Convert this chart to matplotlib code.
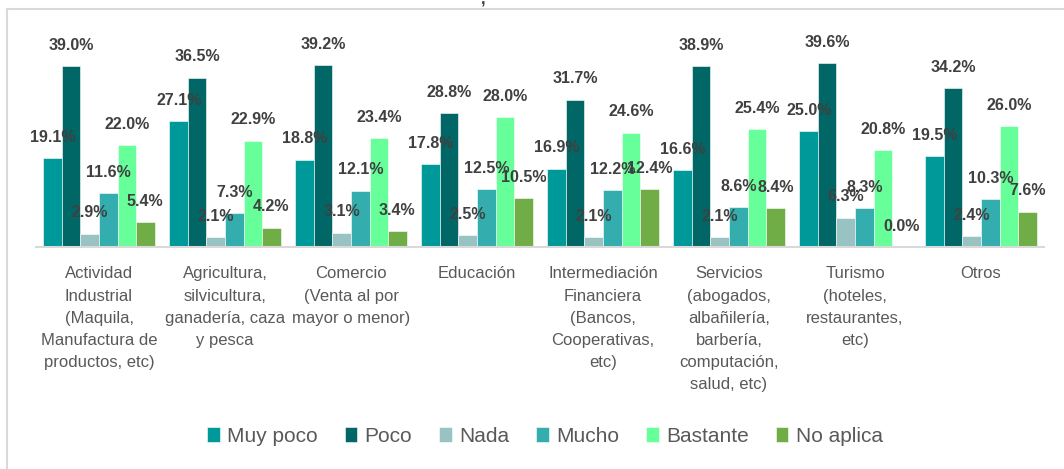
from matplotlib import pyplot as plt
from matplotlib.lines import Line2D
import numpy as np

plt.rcParams['font.family'] = ['Liberation Sans', 'DejaVu Sans']

categories = [
    "Actividad\nIndustrial\n(Maquila,\nManufactura de\nproductos, etc)",
    "Agricultura,\nsilvicultura,\nganadería, caza\ny pesca",
    "Comercio\n(Venta al por\nmayor o menor)",
    "Educación",
    "Intermediación\nFinanciera\n(Bancos,\nCooperativas,\netc)",
    "Servicios\n(abogados,\nalbañilería,\nbarbería,\ncomputación,\nsalud, etc)",
    "Turismo\n(hoteles,\nrestaurantes,\netc)",
    "Otros",
]

series_names = ["Muy poco", "Poco", "Nada", "Mucho", "Bastante", "No aplica"]
muy_poco = [19.1, 27.1, 18.8, 17.8, 16.9, 16.6, 25.0, 19.5]
poco = [39.0, 36.5, 39.2, 28.8, 31.7, 38.9, 39.6, 34.2]
nada = [2.9, 2.1, 3.1, 2.5, 2.1, 2.1, 6.3, 2.4]
mucho = [11.6, 7.3, 12.1, 12.5, 12.2, 8.6, 8.3, 10.3]
bastante = [22.0, 22.9, 23.4, 28.0, 24.6, 25.4, 20.8, 26.0]
no_aplica = [5.4, 4.2, 3.4, 10.5, 12.4, 8.4, 0.0, 7.6]

colors = ["#009999", "#006666", "#99c2c2", "#33adad", "#66ff99", "#70ad47"]

fig = plt.figure(figsize=(10.64, 4.69), dpi=100)
ax = fig.add_axes([36 / 1064, 0.4733, 1008 / 1064, 0.4456])

x = np.arange(len(categories))
width = 0.147
all_series = [muy_poco, poco, nada, mucho, bastante, no_aplica]
for i, (name, vals) in enumerate(zip(series_names, all_series)):
    pos = x + (i - 2.5) * width
    bars = ax.bar(pos, vals, width=width, color=colors[i], label=name,
                  edgecolor='white', linewidth=0.4)
    for xp, v in zip(pos, vals):
        ax.annotate(f"{v:.1f}%", (xp, v), xytext=(0, 15), textcoords='offset points',
                    ha='center', va='center', fontsize=11.5, fontweight='bold',
                    color='#404040')

ax.set_xlim(-0.5, len(categories) - 0.5)
ax.set_ylim(0, 45)
ax.set_yticks([])
ax.set_xticks(x)
ax.set_xticklabels(categories, fontsize=12, color='#595959', linespacing=1.6)
ax.tick_params(axis='x', length=0, pad=14)
for s in ['top', 'right', 'left']:
    ax.spines[s].set_visible(False)
ax.spines['bottom'].set_color('#d9d9d9')
ax.spines['bottom'].set_linewidth(1.5)

fig.legend(loc='center', bbox_to_anchor=(545 / 1064, 0.07), ncol=6, frameon=False,
           fontsize=15, handlelength=0.6, handleheight=0.75, handletextpad=0.35,
           columnspacing=1.3, labelcolor='#595959')

# chart border (left and top edges visible)
fig.add_artist(Line2D([7 / 1064, 7 / 1064], [0, 1 - 9 / 469], color='#d9d9d9', lw=1.5))
fig.add_artist(Line2D([7 / 1064, 1], [1 - 9 / 469, 1 - 9 / 469], color='#d9d9d9', lw=1.5))
fig.text(483 / 1064, 1.0, ",", fontsize=12, fontweight='bold', color='#404040',
         ha='center', va='center')

plt.savefig("out.png")
